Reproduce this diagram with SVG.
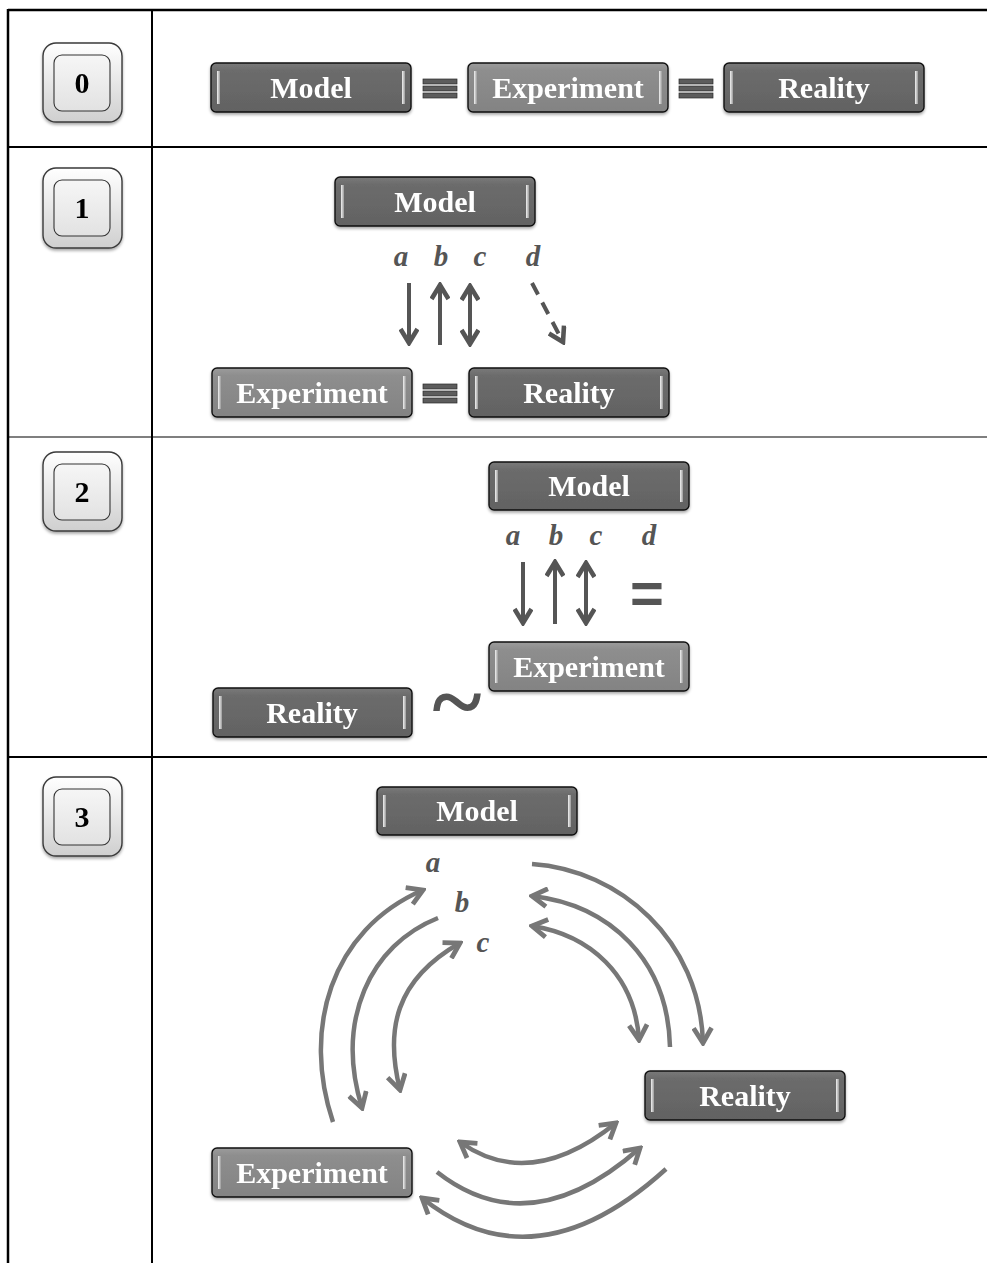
<svg xmlns="http://www.w3.org/2000/svg" width="987" height="1263" viewBox="0 0 987 1263">
<defs>
<style>
.grid{stroke:#000;fill:none}
.box{stroke:#111;stroke-width:1.4}
.dark{fill:url(#gDark)}
.light{fill:url(#gLight)}
.hl{fill:url(#gHl)}
.lbl{font-family:"Liberation Serif","Times New Roman",serif;font-weight:bold;font-size:30px;fill:#fff;text-anchor:middle}
.btnO{fill:url(#gBtn);stroke:#3a3a3a;stroke-width:1.4}
.btnI{fill:url(#gBtnI);stroke:#333;stroke-width:1.1}
.dig{font-family:"Liberation Serif","Times New Roman",serif;font-weight:bold;font-size:30px;fill:#000;text-anchor:middle}
.let{font-family:"Liberation Serif","Times New Roman",serif;font-weight:bold;font-style:italic;font-size:29px;fill:#555;text-anchor:middle}
.eqv{fill:#5c5c5c;stroke:#2a2a2a;stroke-width:0.7}
.ar1{stroke:#555;stroke-width:4;fill:none}
.ar3{stroke:#777;stroke-width:4.5;fill:none;stroke-linecap:butt}
.sym{font-family:"Liberation Sans",Arial,sans-serif;font-weight:bold;fill:#555;text-anchor:middle}
</style>
<linearGradient id="gDark" x1="0" y1="0" x2="0" y2="1"><stop offset="0" stop-color="#7a7a7a"/><stop offset="0.15" stop-color="#6c6c6c"/><stop offset="1" stop-color="#626262"/></linearGradient>
<linearGradient id="gLight" x1="0" y1="0" x2="0" y2="1"><stop offset="0" stop-color="#9c9c9c"/><stop offset="0.15" stop-color="#8e8e8e"/><stop offset="1" stop-color="#838383"/></linearGradient>
<linearGradient id="gHl" x1="0" y1="0" x2="1" y2="0"><stop offset="0" stop-color="#f2f2f2"/><stop offset="1" stop-color="#9a9a9a"/></linearGradient>
<linearGradient id="gBtn" x1="0" y1="0" x2="0" y2="1"><stop offset="0" stop-color="#ffffff"/><stop offset="1" stop-color="#cfcfcf"/></linearGradient>
<linearGradient id="gBtnI" x1="0" y1="0" x2="0" y2="1"><stop offset="0" stop-color="#f6f6f6"/><stop offset="1" stop-color="#e2e2e2"/></linearGradient>
<filter id="sh" x="-10%" y="-20%" width="120%" height="150%"><feDropShadow dx="0" dy="2" stdDeviation="1.5" flood-color="#000" flood-opacity="0.35"/></filter>
<marker id="m1" viewBox="0 0 20 20" refX="17" refY="10" markerWidth="20" markerHeight="20" markerUnits="userSpaceOnUse" orient="auto-start-reverse"><path d="M3,1.5 L17,10 L3,18.5" fill="none" stroke="#555" stroke-width="4.6"/></marker>
<marker id="m3" viewBox="0 0 22 22" refX="19" refY="11" markerWidth="22" markerHeight="22" markerUnits="userSpaceOnUse" orient="auto-start-reverse"><path d="M4,2 L19,11 L4,20" fill="none" stroke="#777" stroke-width="4.8"/></marker>
</defs>
<rect width="987" height="1263" fill="#fff"/>

<g id="table">
<line class="grid" x1="8" y1="10" x2="987" y2="10" stroke-width="2.5"/>
<line class="grid" x1="8" y1="9" x2="8" y2="1263" stroke-width="2.5"/>
<line class="grid" x1="152" y1="10" x2="152" y2="1263" stroke-width="2"/>
<line class="grid" x1="8" y1="147" x2="987" y2="147" stroke-width="2"/>
<line class="grid" x1="8" y1="437" x2="987" y2="437" stroke-width="1.2"/>
<line class="grid" x1="8" y1="757" x2="987" y2="757" stroke-width="2"/>
</g>

<g id="btn0" filter="url(#sh)"><rect class="btnO" x="43" y="43" width="79" height="79" rx="13"/><rect class="btnI" x="54" y="55" width="56" height="56" rx="8"/><text class="dig" x="82" y="93">0</text></g>
<g id="btn1" filter="url(#sh)"><rect class="btnO" x="43" y="168" width="79" height="80" rx="13"/><rect class="btnI" x="54" y="180" width="56" height="56" rx="8"/><text class="dig" x="82" y="218">1</text></g>
<g id="btn2" filter="url(#sh)"><rect class="btnO" x="43" y="452" width="79" height="79" rx="13"/><rect class="btnI" x="54" y="464" width="56" height="56" rx="8"/><text class="dig" x="82" y="502">2</text></g>
<g id="btn3" filter="url(#sh)"><rect class="btnO" x="43" y="777" width="79" height="79" rx="13"/><rect class="btnI" x="54" y="789" width="56" height="56" rx="8"/><text class="dig" x="82" y="827">3</text></g>

<!-- Row 0 -->
<g id="r0-model" filter="url(#sh)"><rect class="box dark" x="211" y="63" width="200" height="49" rx="5"/><rect class="hl" x="217" y="71" width="3" height="33"/><rect class="hl" x="402" y="71" width="3" height="33"/><text class="lbl" x="311" y="98">Model</text></g>
<g id="r0-eq1"><rect class="eqv" x="423" y="79" width="34" height="5"/><rect class="eqv" x="423" y="86" width="34" height="5"/><rect class="eqv" x="423" y="93" width="34" height="5"/></g>
<g id="r0-experiment" filter="url(#sh)"><rect class="box light" x="468" y="63" width="200" height="49" rx="5"/><rect class="hl" x="474" y="71" width="3" height="33"/><rect class="hl" x="659" y="71" width="3" height="33"/><text class="lbl" x="568" y="98">Experiment</text></g>
<g id="r0-eq2"><rect class="eqv" x="679" y="79" width="34" height="5"/><rect class="eqv" x="679" y="86" width="34" height="5"/><rect class="eqv" x="679" y="93" width="34" height="5"/></g>
<g id="r0-reality" filter="url(#sh)"><rect class="box dark" x="724" y="63" width="200" height="49" rx="5"/><rect class="hl" x="730" y="71" width="3" height="33"/><rect class="hl" x="915" y="71" width="3" height="33"/><text class="lbl" x="824" y="98">Reality</text></g>

<!-- Row 1 -->
<g id="r1-model" filter="url(#sh)"><rect class="box dark" x="335" y="177" width="200" height="49" rx="5"/><rect class="hl" x="341" y="185" width="3" height="33"/><rect class="hl" x="526" y="185" width="3" height="33"/><text class="lbl" x="435" y="212">Model</text></g>
<g id="r1-labels"><text class="let" x="401" y="266">a</text><text class="let" x="441" y="266">b</text><text class="let" x="480" y="266">c</text><text class="let" x="533" y="266">d</text></g>
<g id="r1-experiment" filter="url(#sh)"><rect class="box light" x="212" y="368" width="200" height="49" rx="5"/><rect class="hl" x="218" y="376" width="3" height="33"/><rect class="hl" x="403" y="376" width="3" height="33"/><text class="lbl" x="312" y="403">Experiment</text></g>
<g id="r1-eq"><rect class="eqv" x="423" y="384" width="34" height="5"/><rect class="eqv" x="423" y="391" width="34" height="5"/><rect class="eqv" x="423" y="398" width="34" height="5"/></g>
<g id="r1-reality" filter="url(#sh)"><rect class="box dark" x="469" y="368" width="200" height="49" rx="5"/><rect class="hl" x="475" y="376" width="3" height="33"/><rect class="hl" x="660" y="376" width="3" height="33"/><text class="lbl" x="569" y="403">Reality</text></g>

<!-- Row 2 -->
<g id="r2-model" filter="url(#sh)"><rect class="box dark" x="489" y="462" width="200" height="48" rx="5"/><rect class="hl" x="495" y="470" width="3" height="32"/><rect class="hl" x="680" y="470" width="3" height="32"/><text class="lbl" x="589" y="496">Model</text></g>
<g id="r2-labels"><text class="let" x="513" y="545">a</text><text class="let" x="556" y="545">b</text><text class="let" x="596" y="545">c</text><text class="let" x="649" y="545">d</text></g>
<g id="r2-equal"><text class="sym" x="647" y="613" font-size="58">=</text></g>
<g id="r2-experiment" filter="url(#sh)"><rect class="box light" x="489" y="642" width="200" height="49" rx="5"/><rect class="hl" x="495" y="650" width="3" height="33"/><rect class="hl" x="680" y="650" width="3" height="33"/><text class="lbl" x="589" y="677">Experiment</text></g>
<g id="r2-tilde"><text x="457" y="733" font-family="Liberation Serif, Times New Roman, serif" font-weight="bold" font-size="94" fill="#555" text-anchor="middle">~</text></g>
<g id="r2-reality" filter="url(#sh)"><rect class="box dark" x="213" y="688" width="199" height="49" rx="5"/><rect class="hl" x="219" y="696" width="3" height="33"/><rect class="hl" x="403" y="696" width="3" height="33"/><text class="lbl" x="312" y="723">Reality</text></g>

<!-- Row 3 -->
<g id="r3-model" filter="url(#sh)"><rect class="box dark" x="377" y="787" width="200" height="48" rx="5"/><rect class="hl" x="383" y="795" width="3" height="32"/><rect class="hl" x="568" y="795" width="3" height="32"/><text class="lbl" x="477" y="821">Model</text></g>
<g id="r3-labels"><text class="let" x="433" y="872">a</text><text class="let" x="462" y="912">b</text><text class="let" x="483" y="952">c</text></g>
<g id="r3-reality" filter="url(#sh)"><rect class="box dark" x="645" y="1071" width="200" height="49" rx="5"/><rect class="hl" x="651" y="1079" width="3" height="33"/><rect class="hl" x="836" y="1079" width="3" height="33"/><text class="lbl" x="745" y="1106">Reality</text></g>
<g id="r3-experiment" filter="url(#sh)"><rect class="box light" x="212" y="1148" width="200" height="49" rx="5"/><rect class="hl" x="218" y="1156" width="3" height="33"/><rect class="hl" x="403" y="1156" width="3" height="33"/><text class="lbl" x="312" y="1183">Experiment</text></g>

<g id="connectors">
<line class="ar1" x1="409" y1="283" x2="409" y2="343" marker-end="url(#m1)"/>
<line class="ar1" x1="440" y1="345" x2="440" y2="285" marker-end="url(#m1)"/>
<line class="ar1" x1="470" y1="286" x2="470" y2="344" marker-start="url(#m1)" marker-end="url(#m1)"/>
<line class="ar1" x1="532" y1="283" x2="563" y2="342" stroke-dasharray="13,9" marker-end="url(#m1)"/>
<line class="ar1" x1="523" y1="562" x2="523" y2="623" marker-end="url(#m1)"/>
<line class="ar1" x1="555" y1="624" x2="555" y2="562" marker-end="url(#m1)"/>
<line class="ar1" x1="586" y1="563" x2="586" y2="623" marker-start="url(#m1)" marker-end="url(#m1)"/>
<path class="ar3" d="M333,1122 C302,1030 330,930 423,890" marker-end="url(#m3)"/>
<path class="ar3" d="M438,918 C370,945 335,1020 362,1108" marker-end="url(#m3)"/>
<path class="ar3" d="M400,1090 C385,1030 395,980 460,943" marker-start="url(#m3)" marker-end="url(#m3)"/>
<path class="ar3" d="M532,864 C620,870 700,940 703,1043" marker-end="url(#m3)"/>
<path class="ar3" d="M670,1047 C668,960 610,905 532,896" marker-end="url(#m3)"/>
<path class="ar3" d="M532,926 C590,935 635,975 639,1040" marker-start="url(#m3)" marker-end="url(#m3)"/>
<path class="ar3" d="M460,1142 Q530,1192 616,1123" marker-start="url(#m3)" marker-end="url(#m3)"/>
<path class="ar3" d="M437,1172 Q530,1245 640,1148" marker-end="url(#m3)"/>
<path class="ar3" d="M666,1169 Q535,1288 422,1198" marker-end="url(#m3)"/>
</g>
</svg>
